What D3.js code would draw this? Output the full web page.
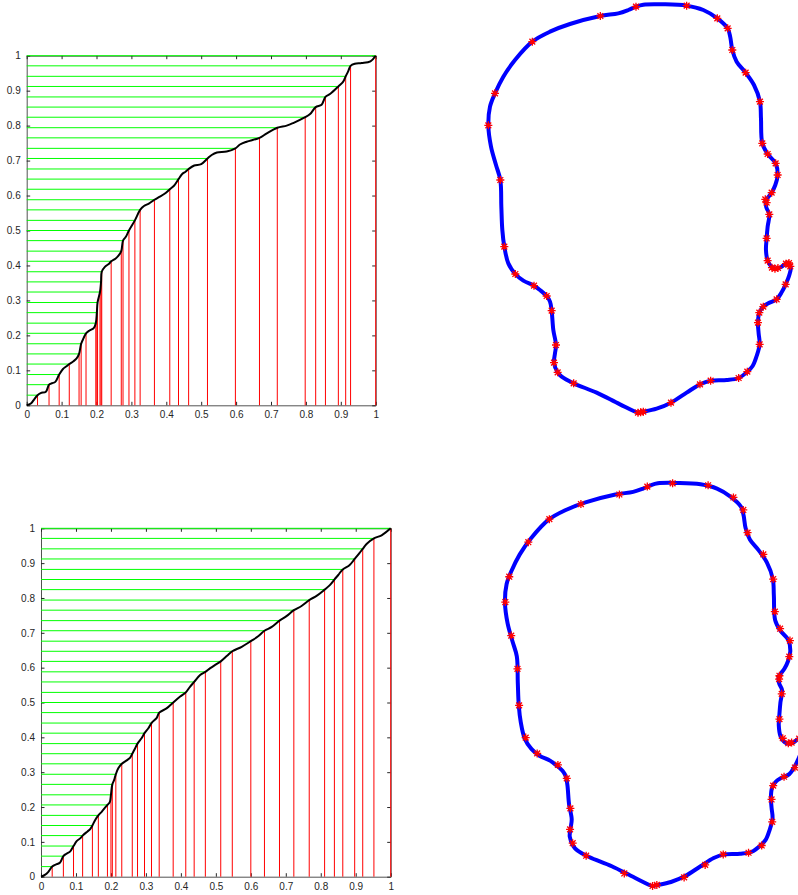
<!DOCTYPE html>
<html>
<head>
<meta charset="utf-8">
<script src="https://cdnjs.cloudflare.com/ajax/libs/d3/7.8.5/d3.min.js"></script>
<style>
body { margin: 0; background: #fff; }
svg { display: block; }
.tick text { font-family: "Liberation Sans", Arial, sans-serif; font-size: 10px; fill: #262626; }
</style>
</head>
<body>
<div id="chart"></div>
<script>
// ---- data ----

let tickVals = [0, 0.1, 0.2, 0.3, 0.4, 0.5, 0.6, 0.7, 0.8, 0.9, 1];

// sampled levels (green lines), same for both rows
let levels = [0.029, 0.059, 0.088, 0.118, 0.147, 0.176, 0.206, 0.235, 0.265, 0.294, 0.324, 0.353,
  0.382, 0.412, 0.441, 0.471, 0.500, 0.529, 0.559, 0.588, 0.618, 0.647, 0.676, 0.706, 0.735,
  0.765, 0.794, 0.824, 0.853, 0.882, 0.912, 0.941, 0.971, 1.000];

// where each level hits the curve (red lines)
let topSampleX = [0.031, 0.064, 0.093, 0.122, 0.150, 0.156, 0.170, 0.198, 0.201, 0.203, 0.210, 0.213,
  0.215, 0.242, 0.271, 0.276, 0.293, 0.310, 0.325, 0.366, 0.410, 0.435, 0.464, 0.518, 0.598,
  0.667, 0.718, 0.798, 0.828, 0.856, 0.893, 0.914, 0.928, 1.0];
let bottomSampleX = [0.032, 0.064, 0.093, 0.119, 0.147, 0.164, 0.190, 0.200, 0.204, 0.214, 0.231, 0.261,
  0.276, 0.296, 0.316, 0.338, 0.378, 0.414, 0.438, 0.470, 0.514, 0.547, 0.600, 0.639, 0.682,
  0.723, 0.767, 0.811, 0.839, 0.863, 0.897, 0.920, 0.952, 1.0];

// cumulative curves
let topCurve = [[0,0],[0.012,0.005],[0.022,0.018],[0.031,0.029],[0.040,0.035],[0.055,0.039],[0.064,0.059],
  [0.072,0.063],[0.082,0.067],[0.093,0.088],[0.104,0.104],[0.113,0.111],[0.122,0.118],[0.134,0.126],
  [0.143,0.134],[0.150,0.147],[0.156,0.176],[0.163,0.192],[0.170,0.206],[0.180,0.214],[0.192,0.221],
  [0.198,0.235],[0.201,0.265],[0.203,0.294],[0.210,0.324],[0.213,0.353],[0.215,0.382],[0.224,0.396],
  [0.236,0.405],[0.242,0.412],[0.255,0.420],[0.263,0.428],[0.271,0.441],[0.276,0.471],[0.284,0.482],
  [0.293,0.500],[0.310,0.529],[0.325,0.559],[0.336,0.570],[0.350,0.577],[0.366,0.588],[0.380,0.596],
  [0.395,0.605],[0.410,0.618],[0.422,0.628],[0.435,0.647],[0.445,0.661],[0.455,0.668],[0.464,0.676],
  [0.480,0.686],[0.500,0.690],[0.518,0.706],[0.530,0.716],[0.545,0.723],[0.573,0.726],[0.598,0.735],
  [0.611,0.746],[0.630,0.754],[0.667,0.765],[0.688,0.778],[0.718,0.794],[0.745,0.800],[0.765,0.808],
  [0.798,0.824],[0.812,0.833],[0.828,0.853],[0.845,0.860],[0.856,0.882],[0.870,0.891],[0.893,0.912],
  [0.907,0.926],[0.914,0.941],[0.921,0.955],[0.928,0.971],[0.940,0.977],[0.960,0.979],[0.985,0.984],[1.0,1.0]];

let bottomCurve = [[0,0],[0.011,0.005],[0.021,0.014],[0.032,0.029],[0.045,0.036],[0.054,0.040],[0.064,0.059],
  [0.073,0.066],[0.083,0.072],[0.093,0.088],[0.102,0.102],[0.112,0.110],[0.119,0.118],[0.133,0.130],
  [0.140,0.136],[0.147,0.147],[0.155,0.163],[0.164,0.176],[0.174,0.187],[0.183,0.198],[0.190,0.206],
  [0.197,0.215],[0.200,0.235],[0.204,0.265],[0.209,0.277],[0.214,0.294],[0.221,0.311],[0.231,0.324],
  [0.245,0.334],[0.255,0.342],[0.261,0.353],[0.269,0.368],[0.276,0.382],[0.288,0.398],[0.296,0.412],
  [0.307,0.426],[0.316,0.441],[0.331,0.456],[0.338,0.471],[0.359,0.483],[0.378,0.500],[0.398,0.517],
  [0.414,0.529],[0.426,0.545],[0.438,0.559],[0.455,0.579],[0.470,0.588],[0.483,0.598],[0.498,0.608],
  [0.514,0.618],[0.532,0.634],[0.547,0.647],[0.574,0.660],[0.600,0.676],[0.621,0.690],[0.639,0.706],
  [0.660,0.717],[0.682,0.735],[0.702,0.748],[0.723,0.765],[0.745,0.777],[0.767,0.794],[0.788,0.806],
  [0.811,0.824],[0.826,0.837],[0.839,0.853],[0.850,0.866],[0.863,0.882],[0.882,0.894],[0.897,0.912],
  [0.910,0.928],[0.920,0.941],[0.931,0.955],[0.952,0.971],[0.974,0.980],[1.0,1.0]];

// closed outline (same shape in both rows), arbitrary shape units
let outline = [[498,20],[520,14],[580,13],[650,17],[700,30],[742,55],[773,85],[781,112],[787,150],
  [800,185],[827,218],[852,255],[870,305],[873,355],[877,430],[893,462],[917,490],[923,525],[916,555],
  [905,578],[888,602],[889,622],[898,643],[893,680],[890,715],[888,750],[893,782],[905,800],[918,806],
  [935,800],[950,790],[962,800],[958,825],[947,853],[935,877],[920,898],[895,910],[880,920],[868,938],
  [864,968],[866,1000],[869,1033],[860,1068],[848,1098],[832,1115],[806,1134],[770,1140],[722,1142],
  [690,1153],[650,1178],[603,1208],[560,1226],[515,1236],[505,1238],[450,1213],[380,1178],[311,1150],
  [275,1130],[263,1117],[252,1088],[255,1060],[258,1035],[250,990],[245,932],[240,905],[230,888],
  [210,870],[192,857],[160,842],[136,822],[115,790],[103,740],[97,690],[94,620],[91,540],[78,495],
  [63,440],[55,376],[60,320],[75,280],[100,230],[135,180],[187,125],[240,95],[300,72],[391,48],
  [445,40],[475,30]];

let topStars = [[498,20],[650,17],[742,55],[773,85],[787,150],[827,218],[870,305],[877,430],[893,462],
  [917,490],[923,525],[905,578],[886,598],[890,608],[898,643],[890,715],[893,782],[906,803],[915,806],
  [924,804],[948,791],[955,793],[961,799],[957,789],[947,853],[920,898],[880,920],[868,938],[864,968],
  [869,1033],[832,1115],[806,1134],[722,1142],[690,1153],[603,1208],[520,1235],[512,1237],[504,1238],
  [311,1150],[263,1117],[252,1088],[258,1035],[245,932],[230,888],[192,857],[136,822],[103,740],
  [91,540],[55,376],[75,280],[187,125],[391,48]];

let bottomStars = [[488,24],[565,14],[673,20],[750,57],[780,95],[793,164],[841,230],[871,305],[876,404],
  [892,456],[922,492],[920,541],[890,599],[889,609],[897,654],[890,731],[900,789],[917,804],[927,802],
  [950,790],[937,878],[904,906],[871,933],[866,975],[868,1043],[836,1115],[796,1137],[719,1142],
  [664,1174],[600,1212],[517,1235],[504,1238],[418,1200],[302,1146],[261,1108],[253,1066],[254,1002],
  [243,911],[216,870],[153,835],[118,787],[98,689],[93,578],[74,477],[56,375],[68,298],[126,193],
  [190,123],[286,77],[403,48]];

// ---- drawing ----

const W = 798, H = 895;
const svg = d3.select("#chart").append("svg").attr("width", W).attr("height", H);

function drawCdf(box, curve, sampleX) {
  let x = d3.scaleLinear().domain([0, 1]).range([box.left, box.right]);
  let y = d3.scaleLinear().domain([0, 1]).range([box.bottom, box.top]);
  let g = svg.append("g");
  let fmt = d3.format("~g");

  g.append("g").attr("transform", "translate(0," + box.bottom + ")").attr("color", "#262626")
    .call(d3.axisBottom(x).tickValues(tickVals).tickFormat(fmt).tickSizeInner(-3.5).tickSizeOuter(0).tickPadding(6));
  g.append("g").attr("transform", "translate(" + box.left + ",0)").attr("color", "#262626")
    .call(d3.axisLeft(y).tickValues(tickVals).tickFormat(fmt).tickSizeInner(-3.5).tickSizeOuter(0).tickPadding(6));
  g.append("g").attr("transform", "translate(0," + box.top + ")").attr("color", "#262626")
    .call(d3.axisTop(x).tickValues(tickVals).tickFormat("").tickSizeInner(-3.5).tickSizeOuter(0));
  g.append("g").attr("transform", "translate(" + box.right + ",0)").attr("color", "#262626")
    .call(d3.axisRight(y).tickValues(tickVals).tickFormat("").tickSizeInner(-3.5).tickSizeOuter(0));
  g.selectAll(".domain").attr("stroke-width", 0.8);

  // green horizontal lines from the y axis to the curve
  g.selectAll(".hline").data(levels).join("line")
    .attr("x1", x(0)).attr("x2", (d, i) => x(sampleX[i]))
    .attr("y1", d => y(d)).attr("y2", d => y(d))
    .attr("stroke", "#00ff00").attr("stroke-width", 1);

  // red vertical lines from the x axis up to the curve
  g.selectAll(".vline").data(sampleX).join("line")
    .attr("x1", d => x(d)).attr("x2", d => x(d))
    .attr("y1", y(0)).attr("y2", (d, i) => y(levels[i]))
    .attr("stroke", "#ff0000").attr("stroke-width", 1);

  let line = d3.line().x(d => x(d[0])).y(d => y(d[1])).curve(d3.curveCatmullRom.alpha(0.5));
  g.append("path").datum(curve).attr("d", line)
    .attr("fill", "none").attr("stroke", "#000").attr("stroke-width", 2).attr("stroke-linejoin", "round");
}

function drawShape(xr, yr, stars) {
  let x = d3.scaleLinear().domain([0, 1000]).range(xr);
  let y = d3.scaleLinear().domain([0, 1260]).range(yr);
  let g = svg.append("g");
  let line = d3.line().x(d => x(d[0])).y(d => y(d[1])).curve(d3.curveCatmullRomClosed.alpha(0.5));
  g.append("path").datum(outline).attr("d", line)
    .attr("fill", "none").attr("stroke", "#0000ff").attr("stroke-width", 4).attr("stroke-linejoin", "round");

  let r = 4, q = 2.9;
  let star = "M" + (-r) + ",0L" + r + ",0M0," + (-r) + "L0," + r +
    "M" + (-q) + "," + (-q) + "L" + q + "," + q + "M" + (-q) + "," + q + "L" + q + "," + (-q);
  g.selectAll(".star").data(stars).join("path")
    .attr("transform", d => "translate(" + x(d[0]) + "," + y(d[1]) + ")")
    .attr("d", star).attr("fill", "none").attr("stroke", "#ff0000").attr("stroke-width", 1.3);
}

drawCdf({left: 26.7, right: 375.7, top: 55.7, bottom: 405.3}, topCurve, topSampleX);
drawCdf({left: 41, right: 390.7, top: 528.3, bottom: 876.7}, bottomCurve, bottomSampleX);
drawShape([470, 803.3], [0, 420], topStars);
drawShape([486.9, 815.6], [478.7, 893.2], bottomStars);
</script>
</body>
</html>
